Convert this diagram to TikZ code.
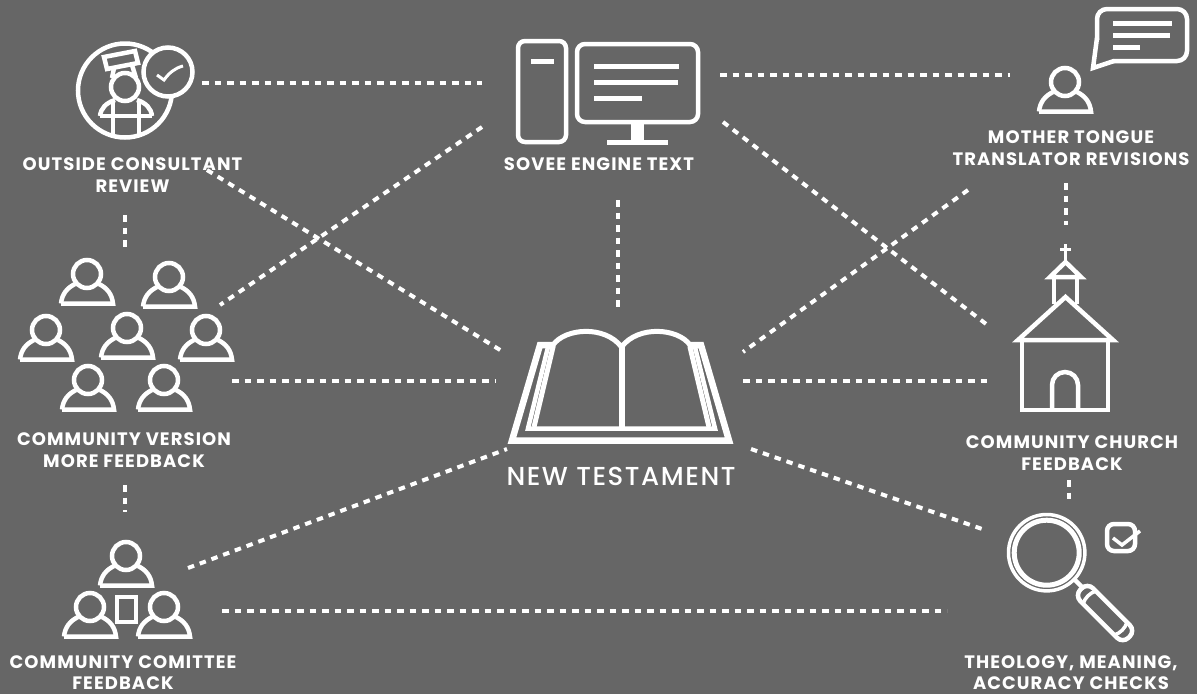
\documentclass[tikz,border=0pt]{standalone}
\usepackage{fontspec}
\setmainfont{Poppins}
\newfontface\headfont{Poppins Medium}[LetterSpace=6]
\definecolor{bggray}{HTML}{666666}

\begin{document}
\begin{tikzpicture}[
					x=1pt, y=-1pt,
					icon/.style={draw=white, line width=4.5pt, line join=miter},
					bar/.style={draw=white, line width=5pt},
					link/.style={draw=white, line width=4pt, dash pattern=on 6.5pt off 6pt},
					caption/.style={text=white, align=center, inner sep=0pt, font=\bfseries\fontsize{18}{21.5}\selectfont\addfontfeature{LetterSpace=6}},
					person/.pic={
						\draw[icon] (0,0) circle (14);
						\draw[icon] (-26,29.5) -- (26,29.5) .. controls (25,20) and (20,14) .. (12,10);
						\draw[icon] (-26,29.5) .. controls (-25,20) and (-20,14) .. (-12,10);
					}
				]
				\useasboundingbox (0,0) rectangle (1197,694);
				\fill[bggray] (0,0) rectangle (1197,694);

				% --- Outside consultant ---
				\draw[icon] (125,90.5) circle (47);
				\draw[icon, fill=bggray] (104,57) -- (135,51) -- (138,63) -- (107,69) -- cycle;
				\draw[icon] (114,68) -- (112,78);
				\draw[icon] (132,65) -- (136,78);
				\draw[icon] (125,87) circle (14);
				\draw[icon] (100,116) -- (152,116);
				\draw[icon] (100,116) .. controls (101,108) and (106,103) .. (115,100);
				\draw[icon] (152,116) .. controls (151,108) and (146,103) .. (137,100);
				\draw[icon] (113,101) -- (113,136);
				\draw[icon] (139,101) -- (139,136);
				\draw[icon, fill=bggray] (168,72) circle (24.5);
				\draw[draw=white, line width=3pt] (157,75) -- (164,80) .. controls (169,73) and (175,68) .. (183,66);
				\node[caption] (consultant) at (132.5,175) {OUTSIDE CONSULTANT\\REVIEW};

				% --- Engine ---
				\draw[icon, rounded corners=7pt] (518,41) rectangle (566,142);
				\draw[bar] (531,61) -- (554,61);
				\draw[icon, rounded corners=8pt] (577,44) rectangle (698,122);
				\draw[bar] (594,66) -- (679,66);
				\draw[bar] (594,82) -- (678,82);
				\draw[bar] (594,98) -- (642,98);
				\fill[white] (631,122) rectangle (644,141);
				\fill[white] (607,140) rectangle (668,145);
				\node[caption] (engine) at (599,164) {SOVEE ENGINE TEXT};

				% --- Mother tongue translator ---
				\pic at (1065,82) {person};
				\draw[icon, rounded corners=10pt] (1113,61) -- (1187,61) -- (1187,9) -- (1097,9) -- (1097,40);
				\draw[icon, line join=miter] (1097,38) -- (1093,68) -- (1114,61);
				\draw[bar] (1113,23) -- (1172,23);
				\draw[bar] (1113,35) -- (1170,35);
				\draw[bar] (1113,47) -- (1140,47);
				\node[caption] (translator) at (1071,148) {MOTHER TONGUE\\TRANSLATOR REVISIONS};

				% --- Community version ---
				\pic at (87,274) {person};
				\pic at (169,277) {person};
				\pic at (46,330) {person};
				\pic at (127,328) {person};
				\pic at (206,330) {person};
				\pic at (88,380) {person};
				\pic at (164,380) {person};
				\node[caption] (version) at (124,450) {COMMUNITY VERSION\\MORE FEEDBACK};

				% --- Community committee ---
				\pic at (126,556) {person};
				\pic at (90,607) {person};
				\pic at (164,607) {person};
				\draw[icon] (117,597) rectangle (136,622);
				\node[caption] (committee) at (123,672.5) {COMMUNITY COMITTEE\\FEEDBACK};

				% --- New Testament ---
				\draw[icon, line width=6.5pt] (552,345) -- (540,345) -- (512,440.5) -- (729,440.5) -- (701,345) -- (691,345);
				\draw[icon] (548,347) -- (528,428.5) -- (715,428.5) -- (695,347);
				\draw[icon, line width=5pt] (534,427) -- (553,347) -- (553,345) .. controls (565,328) and (605,325) .. (621.5,347)
						.. controls (638,325) and (678,328) .. (690,345) -- (690,347) -- (709,427);
				\draw[icon, line width=6pt] (621.5,347) -- (621.5,428);
				\node[text=white, inner sep=0pt, font=\fontsize{26}{30}\headfont] (testament) at (621,476) {NEW TESTAMENT};

				% --- Church ---
				\draw[draw=white, line width=3pt] (1065.5,244) -- (1065.5,262);
				\draw[draw=white, line width=3pt] (1060,249) -- (1071,249);
				\draw[icon] (1050,277) -- (1065.5,262) -- (1081,277) -- cycle;
				\draw[icon] (1054,277) -- (1054,304);
				\draw[icon] (1077,277) -- (1077,304);
				\draw[icon] (1018,340) -- (1065.5,297) -- (1113,340) -- cycle;
				\draw[icon] (1022,340) -- (1022,410) -- (1108,410) -- (1108,340);
				\draw[icon] (1052,410) -- (1052,385) arc[start angle=180, end angle=0, x radius=13, y radius=-13] -- (1078,410);
				\node[caption] (church) at (1072,453) {COMMUNITY CHURCH\\FEEDBACK};

				% --- Magnifier ---
				\draw[icon, line width=3.5pt] (1046.7,552.7) circle (38.2);
				\draw[icon, line width=5pt] (1046.7,552.7) circle (32.5);
				\draw[icon] (1075,580) -- (1084,589);
				\begin{scope}[shift={(1081,589)}, rotate=-45]
					\draw[icon, rounded corners=8pt] (0,-9) rectangle (68,9);
					\draw[draw=white, line width=3.5pt] (12,-9) .. controls (9,-4) and (9,4) .. (12,9);
					\draw[draw=white, line width=3.5pt] (56,-9) .. controls (59,-4) and (59,4) .. (56,9);
				\end{scope}
				\draw[icon, rounded corners=7pt] (1107,524) rectangle (1135,551);
				\draw[draw=white, line width=3.5pt] (1113,538) -- (1122,545) -- (1140,531);
				\node[caption] (checks) at (1071,672.5) {THEOLOGY, MEANING,\\ACCURACY CHECKS};

				% --- Ends of the links ---
				\coordinate (consultantE) at (202,83);
				\coordinate (engineW) at (482,83);
				\coordinate (engineE) at (720,75);
				\coordinate (translatorW) at (1010,75);
				\coordinate (engineSW) at (482,127);
				\coordinate (versionNE) at (220,305);
				\coordinate (consultantSE) at (207,170);
				\coordinate (testamentNW) at (505,353);
				\coordinate (engineS) at (618,200);
				\coordinate (testamentN) at (618,310);
				\coordinate (engineSE) at (723,122);
				\coordinate (churchNW) at (990,327);
				\coordinate (translatorSW) at (968,190);
				\coordinate (testamentNE) at (743,352);
				\coordinate (translatorS) at (1066,183);
				\coordinate (churchN) at (1066,225);
				\coordinate (consultantS) at (125,215);
				\coordinate (versionN) at (125,247);
				\coordinate (versionE) at (232,381);
				\coordinate (testamentW) at (495,381);
				\coordinate (testamentE) at (743,381);
				\coordinate (churchW) at (988,381);
				\coordinate (versionS) at (125,485);
				\coordinate (committeeN) at (125,512);
				\coordinate (committeeNE) at (188,568);
				\coordinate (testamentSW) at (507,449);
				\coordinate (testamentSE) at (751,449);
				\coordinate (checksNW) at (985,530);
				\coordinate (committeeE) at (222,611);
				\coordinate (checksW) at (947,611);
				\coordinate (churchS) at (1069,480);
				\coordinate (checksN) at (1069,503);

				% --- Links ---
				\foreach \a/\b in {consultantE/engineW, engineE/translatorW, engineSW/versionNE,
						consultantSE/testamentNW, engineS/testamentN, engineSE/churchNW,
						translatorSW/testamentNE, translatorS/churchN, consultantS/versionN,
						versionE/testamentW, testamentE/churchW, versionS/committeeN,
						committeeNE/testamentSW, testamentSE/checksNW, committeeE/checksW,
						churchS/checksN}
					\draw[link] (\a) -- (\b);

			\end{tikzpicture}
\end{document}
